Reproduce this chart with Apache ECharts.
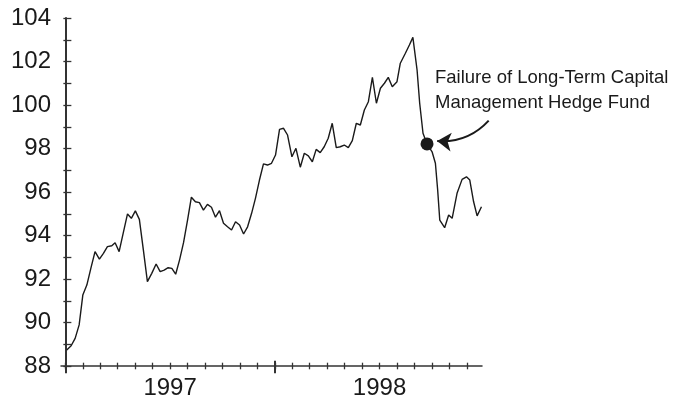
<!DOCTYPE html>
<html>
<head>
<meta charset="utf-8">
<script src="https://cdn.jsdelivr.net/npm/echarts@6/dist/echarts.min.js"></script>
<style>
  html, body { margin: 0; padding: 0; background: #fff; }
  #chart { width: 684px; height: 402px; }
</style>
</head>
<body>
<div id="chart"></div>
<script>
// weekly index, x = months since Jan 1997
var months = [
  0.08, 0.33, 0.56, 0.79, 1.00, 1.23, 1.46, 1.70, 1.95, 2.18,
  2.41, 2.66, 2.85, 3.08, 3.33, 3.56, 3.78, 4.01, 4.24, 4.47,
  4.70, 4.95, 5.20, 5.43, 5.66, 5.89, 6.10, 6.32, 6.54, 6.77,
  7.00, 7.22, 7.45, 7.68, 7.91, 8.14, 8.37, 8.60, 8.83, 9.06,
  9.29, 9.52, 9.75, 9.98, 10.21, 10.44, 10.67, 10.89, 11.12, 11.35,
  11.58, 11.81, 12.04, 12.27, 12.50, 12.73, 12.98, 13.21, 13.46, 13.69,
  13.92, 14.15, 14.37, 14.60, 14.83, 15.06, 15.29, 15.52, 15.75, 15.98,
  16.21, 16.44, 16.67, 16.90, 17.13, 17.36, 17.59, 17.82, 18.05, 18.28,
  18.50, 18.73, 19.00, 19.19, 19.48, 19.71, 19.91, 20.15, 20.30, 20.49,
  20.72, 21.01, 21.20, 21.33, 21.45, 21.73, 21.96, 22.16, 22.44, 22.73,
  22.98, 23.17, 23.39, 23.59, 23.84
];
var values = [
  88.74, 88.93, 89.27, 89.89, 91.26, 91.72, 92.49, 93.26, 92.91, 93.18,
  93.49, 93.53, 93.67, 93.26, 94.17, 94.99, 94.79, 95.13, 94.74, 93.33,
  91.88, 92.26, 92.69, 92.34, 92.41, 92.52, 92.49, 92.22, 92.87, 93.67,
  94.71, 95.76, 95.55, 95.51, 95.17, 95.43, 95.30, 94.84, 95.14, 94.56,
  94.40, 94.25, 94.63, 94.48, 94.07, 94.40, 95.02, 95.71, 96.55, 97.29,
  97.24, 97.32, 97.70, 98.88, 98.93, 98.62, 97.62, 98.01, 97.14, 97.78,
  97.66, 97.39, 97.96, 97.81, 98.08, 98.47, 99.16, 98.04, 98.08, 98.16,
  98.04, 98.36, 99.16, 99.08, 99.77, 100.15, 101.27, 100.08, 100.77, 101.00,
  101.27, 100.84, 101.07, 101.92, 102.38, 102.76, 103.11, 101.61, 100.08, 98.70,
  98.21, 97.85, 97.32, 96.09, 94.71, 94.36, 94.94, 94.79, 95.94, 96.58,
  96.70, 96.55, 95.55, 94.90, 95.32
];

var years = ["1997", "1998"];
var yearCenters = [6, 18];
var monthTicks = [0, 1, 2, 3, 4, 5, 6, 7, 8, 9, 10, 11, 12, 13, 14, 15, 16, 17, 18, 19, 20, 21, 22, 23];
var yearTicks = [0, 12];
var yLabels = [88, 90, 92, 94, 96, 98, 100, 102, 104];

var failurePoint = [20.72, 98.21];
var arrowFrom = [24.25, 99.28];
var arrowTo = [21.30, 98.34];
var noteLines = ["Failure of Long-Term Capital", "Management Hedge Fund"];

var FONT = '"Liberation Sans", Arial, sans-serif';
var INK = "#1a1a1a";
var AXIS = "#333";

// grid 0 holds the chart; grid 1 is the same scale but wider, for the annotation arrow
var X_MIN = -0.25, X_MAX = 23.87;
var X_MAX_WIDE = 29.71;

var chart = echarts.init(document.getElementById("chart"), null, { renderer: "canvas" });

var seriesData = months.map(function (m, i) { return [m, values[i]]; });

function tickAxis(vals, len, inside, width) {
  return {
    type: "value", gridIndex: 0, position: "bottom", min: X_MIN, max: X_MAX,
    axisLine: { show: false },
    splitLine: { show: false },
    axisLabel: { show: false },
    axisTick: { show: true, inside: inside, length: len, customValues: vals,
      lineStyle: { color: AXIS, width: width } }
  };
}

var option = {
  backgroundColor: "#fff",
  animation: false,
  grid: [
    { left: 61, top: 18, right: 202, bottom: 36, containLabel: false },
    { left: 61, top: 18, right: 100, bottom: 36, containLabel: false }
  ],
  xAxis: [
    {
      type: "value", gridIndex: 0, position: "bottom", min: X_MIN, max: X_MAX,
      axisLine: { show: true, lineStyle: { color: AXIS, width: 1.5 } },
      axisTick: { show: false },
      splitLine: { show: false },
      axisLabel: {
        customValues: yearCenters,
        formatter: function (v) { return years[Math.round((v - 6) / 12)]; },
        fontFamily: FONT, fontSize: 24, color: INK, margin: 10
      }
    },
    tickAxis(monthTicks, 3.3, false, 1.3),
    tickAxis(monthTicks, 3.3, true, 1.3),
    tickAxis(yearTicks, 7.3, false, 2),
    tickAxis(yearTicks, 5.3, true, 2),
    {
      type: "value", gridIndex: 1, min: X_MIN, max: X_MAX_WIDE, show: false
    }
  ],
  yAxis: [
    {
      type: "value", gridIndex: 0, min: 88, max: 104, interval: 1,
      axisLine: { show: true, lineStyle: { color: AXIS, width: 2 } },
      axisTick: { show: true, inside: false, length: 2, lineStyle: { color: AXIS, width: 1.3 } },
      splitLine: { show: false },
      axisLabel: {
        customValues: yLabels,
        fontFamily: FONT, fontSize: 24, color: INK, margin: 10
      }
    },
    {
      type: "value", gridIndex: 0, min: 88, max: 104, interval: 1, position: "left",
      axisLine: { show: false },
      axisTick: { show: true, inside: true, length: 6, lineStyle: { color: AXIS, width: 1.3 } },
      splitLine: { show: false },
      axisLabel: { show: false }
    },
    {
      type: "value", gridIndex: 1, min: 88, max: 104, show: false
    }
  ],
  series: [
    {
      type: "line",
      xAxisIndex: 0, yAxisIndex: 0,
      data: seriesData,
      showSymbol: false,
      symbol: "none",
      lineStyle: { color: INK, width: 1.4 }
    },
    {
      type: "scatter",
      xAxisIndex: 0, yAxisIndex: 0,
      data: [failurePoint],
      symbol: "circle",
      symbolSize: 13,
      itemStyle: { color: INK, opacity: 1 },
      z: 5
    },
    {
      type: "lines",
      coordinateSystem: "cartesian2d",
      xAxisIndex: 5, yAxisIndex: 2,
      silent: true,
      symbol: ["none", "arrow"],
      symbolSize: 14,
      lineStyle: { color: INK, width: 2, opacity: 1, curveness: 0.24 },
      data: [{ coords: [arrowFrom, arrowTo] }]
    }
  ],
  graphic: [
    {
      type: "text", left: 435, top: 66,
      style: {
        text: noteLines.join("\n"),
        font: "18.5px " + FONT,
        lineHeight: 24.5,
        fill: INK
      }
    }
  ]
};

chart.setOption(option);
</script>
</body>
</html>
